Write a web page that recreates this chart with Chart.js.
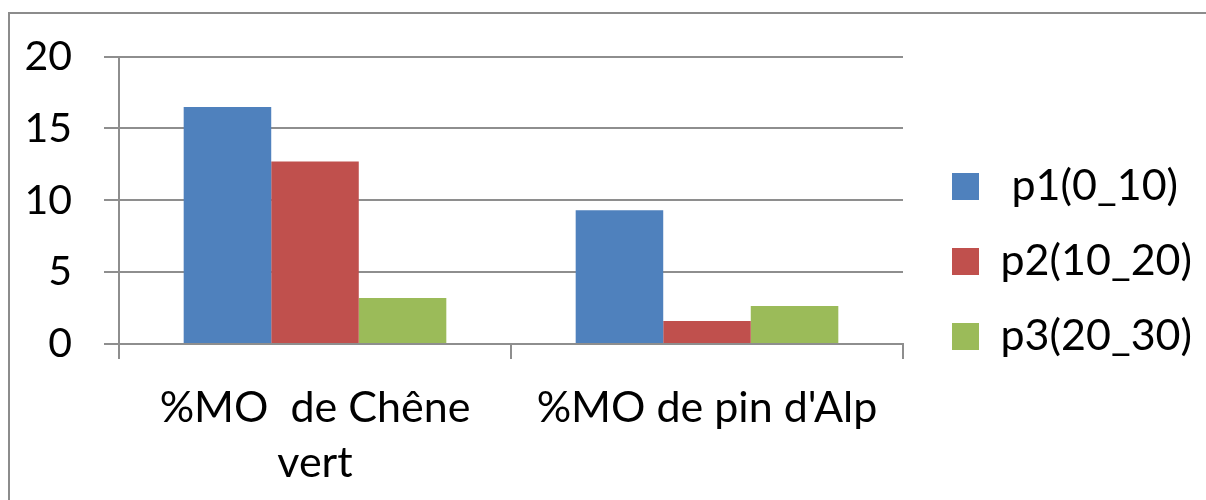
<!DOCTYPE html>
<html>
<head>
<meta charset="utf-8">
<title>%MO par profondeur</title>
<script src="https://cdn.jsdelivr.net/npm/chart.js@4/dist/chart.umd.min.js"></script>
<style>
  html, body { margin: 0; padding: 0; background: #fff; overflow: hidden; }
  #wrap { position: relative; width: 1206px; height: 500px; overflow: hidden; }
  #frame { position: absolute; left: 8px; top: 12px; width: 1300px; height: 600px;
           border: 2px solid #8c8c8c; box-sizing: border-box; }
  #c { position: absolute; left: 0; top: 0; }
</style>
</head>
<body>
<div id="wrap">
  <div id="frame"></div>
  <canvas id="c" width="1206" height="500"></canvas>
</div>
<script>
// Categories (the first one wraps onto two lines)
const categories = [["%MO  de Chêne", "vert"], "%MO de pin d'Alp"];
// Depth layers
const seriesNames = [" p1(0_10)", "p2(10_20)", "p3(20_30)"];
const p1 = [16.5, 9.3];
const p2 = [12.7, 1.6];
const p3 = [3.2, 2.65];
const yTicks = [0, 5, 10, 15, 20];

const colors = ["#4F81BD", "#C0504D", "#9BBB59"];
const gridColor = "#8e8e8e";
const family = "Lato";
const labelSize = 43;
const legendBox = 27;
const legendPad = 32;
const plotLeft = 119;       // width reserved for the value axis
const plotRight = 903;      // right edge of the plot area
const xAxisHeight = 148;    // room under the plot for the category labels
const legendGap = 17;       // space between plot and legend
const legendLift = 12;      // raise the legend column a little

// width the legend will ask for, so the plot keeps its right edge
const mctx = document.createElement("canvas").getContext("2d");
mctx.font = labelSize + "px " + family;
const textW = Math.max(...seriesNames.map(s => mctx.measureText(s).width));
const legendW = legendPad + legendBox + labelSize / 2 + textW + 10;
const rightPad = Math.max(0, 1206 - plotRight - legendW);

const datasets = [p1, p2, p3].map((values, i) => ({
  label: seriesNames[i],
  data: values,
  backgroundColor: colors[i],
  borderWidth: 0,
  categoryPercentage: 0.67,
  barPercentage: 1.0
}));

// move the legend block sideways/upwards after the layout pass
const legendNudge = {
  id: "legendNudge",
  afterLayout(chart) {
    const lg = chart.legend;
    if (!lg) return;
    lg.left += legendGap; lg.right += legendGap;
    lg.top -= legendLift; lg.bottom -= legendLift;
  }
};

new Chart(document.getElementById("c"), {
  type: "bar",
  data: { labels: categories, datasets },
  plugins: [legendNudge],
  options: {
    responsive: false,
    devicePixelRatio: 1,
    animation: false,
    events: [],
    layout: { padding: { left: 0, top: 55, right: rightPad, bottom: 8 } },
    plugins: {
      tooltip: { enabled: false },
      legend: {
        position: "right",
        align: "center",
        labels: {
          boxWidth: legendBox,
          boxHeight: legendBox,
          padding: legendPad,
          color: "#000",
          font: { family, size: labelSize }
        }
      }
    },
    scales: {
      x: {
        offset: true,
        grid: {
          offset: true,
          drawOnChartArea: false,
          drawTicks: true,
          tickLength: 15,
          color: gridColor,
          lineWidth: 2
        },
        border: { display: true, color: gridColor, width: 2 },
        ticks: {
          color: "#000",
          font: { family, size: labelSize, lineHeight: 55 / labelSize },
          padding: 22,
          maxRotation: 0,
          autoSkip: false
        },
        afterFit: (s) => { s.paddingLeft = 0; s.paddingRight = 0; s.height = xAxisHeight; }
      },
      y: {
        min: 0,
        max: 20,
        afterBuildTicks: (s) => { s.ticks = yTicks.map(v => ({ value: v })); },
        grid: {
          color: gridColor,
          lineWidth: 2,
          drawTicks: true,
          tickLength: 15
        },
        border: { display: true, color: gridColor, width: 2 },
        ticks: {
          color: "#000",
          font: { family, size: 41 },
          padding: 32
        },
        afterFit: (s) => { s.width = plotLeft; }
      }
    }
  }
});
</script>
</body>
</html>
